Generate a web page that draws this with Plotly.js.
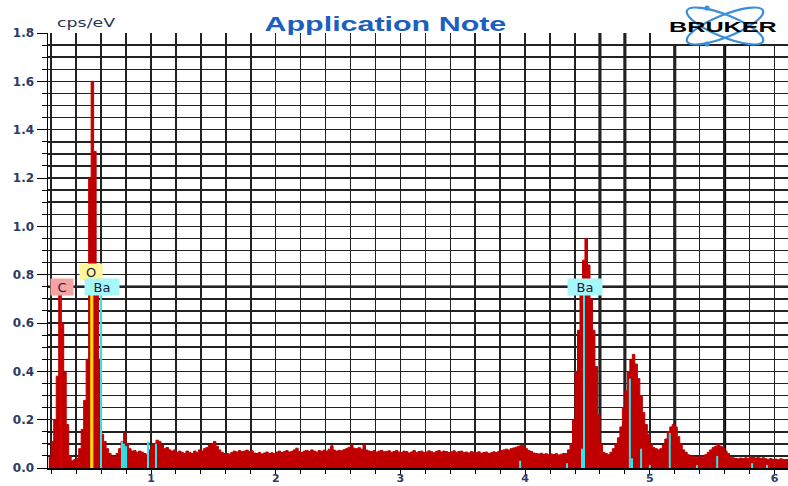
<!DOCTYPE html>
<html><head><meta charset="utf-8">
<script src="https://cdn.plot.ly/plotly-3.0.1.min.js"></script>
<style>html,body{margin:0;padding:0;background:#fff}#chart{width:788px;height:486px}</style>
</head><body><div id="chart"></div>
<script>
// Spectrum: channel start energy (keV) and channel width (keV)
const E0 = 0.18;
const STEP = 0.02;
// counts in cps/eV, one per 0.02 keV channel
const counts = [
0.045,0.11,0.20,0.38,0.73,0.60,0.40,0.18,0.05,0.03,
0.035,0.04,0.08,0.16,0.28,0.45,1.20,1.60,1.31,0.80,
0.45,0.14,0.11,0.08,0.06,0.05,0.045,0.06,0.08,0.11,
0.145,0.10,0.08,0.07,0.072,0.065,0.07,0.065,0.06,0.055,
0.075,0.095,0.10,0.115,0.11,0.095,0.08,0.085,0.075,0.07,
0.075,0.065,0.07,0.065,0.06,0.07,0.065,0.06,0.07,0.065,
0.075,0.07,0.08,0.085,0.095,0.10,0.11,0.09,0.075,0.065,
0.06,0.060,0.058,0.065,0.070,0.066,0.072,0.068,0.070,0.074,
0.068,0.071,0.062,0.060,0.064,0.058,0.062,0.066,0.060,0.063,
0.059,0.066,0.070,0.064,0.068,0.072,0.066,0.069,0.075,0.082,
0.068,0.064,0.070,0.073,0.068,0.075,0.070,0.066,0.072,0.069,
0.074,0.070,0.078,0.092,0.074,0.070,0.073,0.071,0.076,0.080,
0.086,0.095,0.082,0.080,0.084,0.078,0.098,0.074,0.070,0.068,
0.072,0.066,0.070,0.073,0.067,0.069,0.071,0.065,0.068,0.072,
0.066,0.064,0.070,0.068,0.062,0.066,0.072,0.064,0.068,0.070,
0.064,0.066,0.071,0.067,0.063,0.069,0.072,0.066,0.070,0.068,
0.064,0.067,0.071,0.065,0.068,0.070,0.064,0.066,0.062,0.068,
0.065,0.063,0.067,0.061,0.064,0.066,0.060,0.063,0.067,0.064,
0.069,0.072,0.075,0.078,0.074,0.080,0.083,0.086,0.090,0.094,
0.092,0.080,0.072,0.068,0.062,0.060,0.058,0.061,0.057,0.059,
0.055,0.058,0.056,0.059,0.054,0.057,0.060,0.060,0.075,0.10,
0.20,0.40,0.57,0.72,0.86,0.95,0.84,0.70,0.57,0.42,
0.22,0.10,0.065,0.06,0.055,0.065,0.08,0.10,0.125,0.17,
0.25,0.32,0.40,0.45,0.47,0.43,0.37,0.30,0.23,0.18,
0.14,0.10,0.085,0.08,0.075,0.08,0.095,0.12,0.15,0.17,
0.18,0.17,0.13,0.10,0.075,0.065,0.055,0.05,0.048,0.045,
0.045,0.05,0.045,0.055,0.065,0.075,0.085,0.09,0.10,0.09,
0.085,0.07,0.06,0.045,0.042,0.040,0.038,0.041,0.039,0.042,
0.040,0.048,0.044,0.041,0.043,0.040,0.042,0.038,0.036,0.039,
0.035,0.037,0.034,0.038,0.036,0.035,0.036
];

// Element line markers
const lineElem   = ['C','O','Ba','Ba','Ba','Ba','Ba','Ba','Ba','Ba','Ba','Ba','Ba','Ba','Ba','Ba','Ba','Ba','Ba','Ba','Ba'];
const lineEnergy = [0.277,0.525,0.599,0.767,0.783,0.800,0.976,1.040,3.960,4.336,4.456,4.472,4.840,4.857,4.930,5.000,5.160,5.378,5.540,5.820,5.940];
const lineHeight = [0.73,0.79,0.74,0.11,0.10,0.09,0.11,0.10,0.03,0.02,0.08,0.74,0.37,0.04,0.08,0.012,0.145,0.012,0.05,0.02,0.012];

// Element labels
const labelText   = ['C','O','Ba','Ba'];
const labelEnergy = [0.287,0.52,0.607,4.48];
const labelValue  = [0.749,0.81,0.749,0.749];

const elemColor = {C:'#e00000', O:'#ffe600', Ba:'#30e4ec'};
const elemBg = {C:'#f5a3a3', O:'#fff59a', Ba:'#a6f7f7'};

const xs = counts.map((_, i) => +(E0 + STEP * i).toFixed(4));
xs.push(+(E0 + STEP * counts.length).toFixed(4));
const ys = counts.concat([counts[counts.length - 1]]);

const traces = [{
  type:'scatter', mode:'lines', x: xs, y: ys,
  line:{shape:'hv', color:'#c00000', width:1},
  fill:'tozeroy', fillcolor:'#c00000', hoverinfo:'skip'
}];

lineEnergy.forEach((e, k) => {
  const el = lineElem[k];
  if (el === 'O') {
    traces.push({type:'scatter', mode:'lines', x:[e,e], y:[0,lineHeight[k]],
      line:{color:'#e89a00', width:3.5}, hoverinfo:'skip'});
  }
  traces.push({type:'scatter', mode:'lines', x:[e,e], y:[0,lineHeight[k]],
    line:{color: elemColor[el], width: el === 'C' ? 1.5 : 2}, hoverinfo:'skip'});
});

const GRID = '#222222';
const px2paperX = p => (p - 48) / 740;
const px2paperY = p => (468 - p) / 435;

// logo block: white backing (hides grid) + two orbits
const logoSvg = "<svg xmlns='http://www.w3.org/2000/svg' width='116' height='50' viewBox='0 0 116 50'>" +
  "<rect x='0' y='0' width='116' height='44' fill='#ffffff'/>" +
  "<g fill='none' stroke='#3a8edb' stroke-width='2.2'>" +
  "<ellipse cx='60' cy='26' rx='41' ry='11' transform='rotate(22 60 26)'/>" +
  "<ellipse cx='60' cy='26' rx='41' ry='11' transform='rotate(-22 60 26)'/></g>" +
  "<circle cx='42' cy='8' r='2.6' fill='#3a8edb'/><circle cx='42' cy='44' r='2.6' fill='#3a8edb'/></svg>";

// emphasised grid lines (rendering of the original)
const thickX = [4.6, 4.8, 5.2, 5.6];
const thickY = [0.75];

const annotations = labelText.map((t, k) => ({
  x: labelEnergy[k], y: labelValue[k], xref:'x', yref:'y', text: t, showarrow:false,
  bgcolor: elemBg[t], font:{family:'DejaVu Sans', size:13, color:'#1c1c3a'},
  width: t === 'Ba' ? 32 : 20, height: 14, borderpad: 1
}));
annotations.push(
  {text:'Application Note', xref:'paper', yref:'paper', x: px2paperX(385), y: px2paperY(23),
   xanchor:'center', yanchor:'middle', showarrow:false,
   font:{family:'Liberation Sans', size:21, color:'#1b5fc1', weight:'bold'}},
  {text:'cps/eV', xref:'paper', yref:'paper', x: px2paperX(55), y: px2paperY(23),
   xanchor:'left', yanchor:'middle', showarrow:false,
   font:{family:'DejaVu Sans', size:12, color:'#2a3555'}},
  {text:'BRUKER', xref:'paper', yref:'paper', x: px2paperX(667), y: px2paperY(27),
   xanchor:'left', yanchor:'middle', showarrow:false,
   font:{family:'Liberation Sans', size:14, color:'#000000', weight:'bold'}}
);

const shapes = [];
thickX.forEach(v => shapes.push({type:'line', xref:'x', yref:'paper', x0:v, x1:v, y0:0, y1:1,
  line:{color:'#000', width:3}, layer:'below'}));
thickY.forEach(v => shapes.push({type:'line', xref:'paper', yref:'y', x0:0, x1:1, y0:v, y1:v,
  line:{color:'#000', width:2.5}, layer:'below'}));

const layout = {
  width:788, height:486,
  margin:{l:48, r:0, t:33, b:18, pad:0},
  paper_bgcolor:'#ffffff', plot_bgcolor:'#ffffff',
  showlegend:false,
  xaxis:{
    range:[0.174, 6.108], tick0:0, dtick:1, ticks:'outside', ticklen:4, tickcolor:'#000',
    showline:true, linecolor:'#000', linewidth:1.5, zeroline:false,
    showgrid:true, gridcolor:GRID, gridwidth:1.5, ticklabelstandoff:-5,
    tickfont:{family:'DejaVu Sans', size:11, color:'#2b3966', weight:'bold'},
    minor:{tick0:0, dtick:0.2, ticks:'outside', ticklen:4, tickcolor:'#000', showgrid:true, gridcolor:GRID, gridwidth:1.5}
  },
  yaxis:{
    range:[0, 1.8], tick0:0, dtick:0.2, tickformat:'.1f', ticks:'outside', ticklen:10, tickcolor:'#000',
    showline:true, linecolor:'#000', linewidth:1.5, zeroline:false,
    showgrid:true, gridcolor:GRID, gridwidth:1.5,
    tickfont:{family:'DejaVu Sans', size:12, color:'#2b3966', weight:'bold'},
    minor:{tick0:0, dtick:0.05, ticks:'outside', ticklen:5, tickcolor:'#000', showgrid:true, gridcolor:GRID, gridwidth:1.5}
  },
  shapes: shapes,
  images:[{source:'data:image/svg+xml;charset=utf-8,' + encodeURIComponent(logoSvg),
    xref:'paper', yref:'paper', x: px2paperX(665), y: px2paperY(0),
    sizex: 116/740, sizey: 50/435, xanchor:'left', yanchor:'top', sizing:'stretch', layer:'above'}],
  annotations: annotations
};

Plotly.newPlot('chart', traces, layout, {displayModeBar:false, staticPlot:true}).then(() => {
  const stretch = {'Application Note':[1.45,'center'], 'cps/eV':[1.45,'left'], 'BRUKER':[1.8,'left']};
  document.querySelectorAll('.annotation-text').forEach(t => {
    const s = stretch[t.textContent];
    if (s) {
      t.style.transformBox = 'fill-box';
      t.style.transformOrigin = s[1] + ' center';
      t.style.transform = 'scaleX(' + s[0] + ')';
    }
  });
});
</script>
</body></html>
